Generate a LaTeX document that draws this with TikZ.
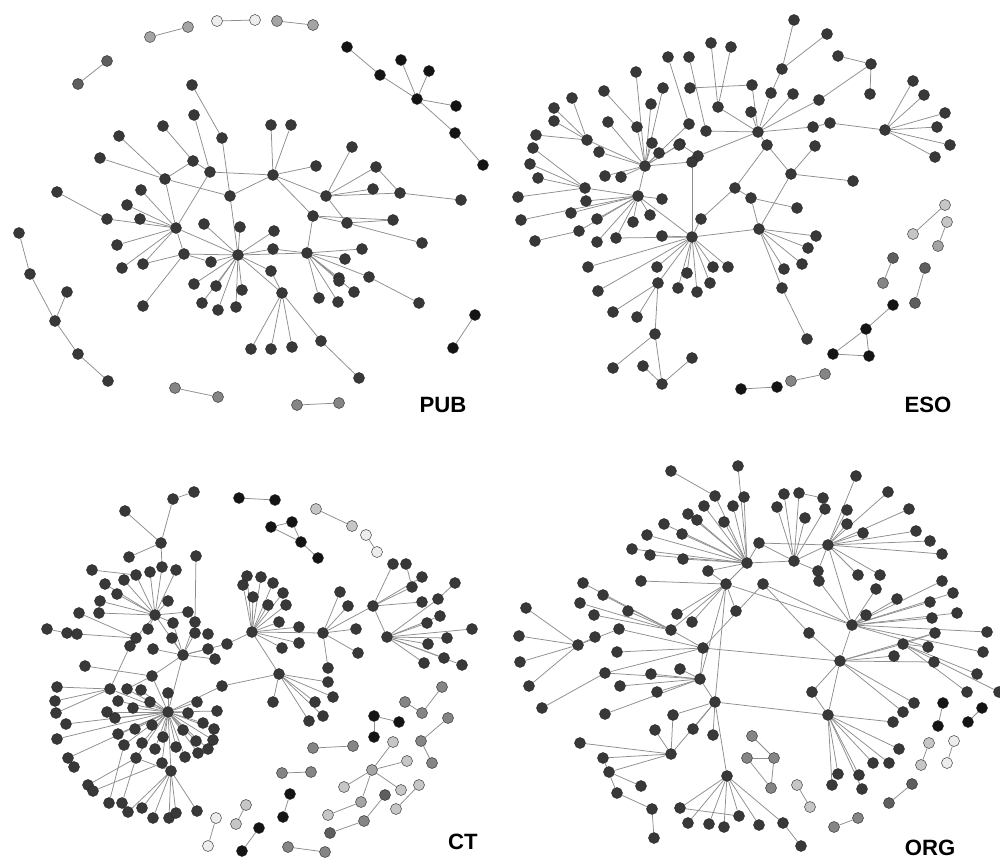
\documentclass[tikz,border=0pt]{standalone}
\usepackage{fontspec}
\setsansfont{Liberation Sans}
\usepackage{tikz}
\usetikzlibrary{calc, positioning}
\pgfdeclarelayer{edges}
\pgfsetlayers{edges,main}
\definecolor{nblack}{HTML}{141414}
\definecolor{ndark}{HTML}{383838}
\definecolor{gone}{HTML}{5E5E5E}
\definecolor{gtwo}{HTML}{858585}
\definecolor{gthree}{HTML}{A4A4A4}
\definecolor{gfour}{HTML}{C6C6C6}
\definecolor{gfive}{HTML}{EDEDED}
\definecolor{linkgray}{HTML}{8E8E8E}

\begin{document}
\begin{tikzpicture}[x=0.254mm, y=-0.254mm,
    dot/.style={circle, inner sep=0pt, minimum size=2.8mm, draw=black!85, fill=ndark, line width=0.3pt},
    link/.style={draw=linkgray, line width=0.55pt},
    lbl/.style={font=\sffamily\bfseries\fontsize{16}{16}\selectfont, inner sep=0pt}]
\useasboundingbox (0,0) rectangle (1000,859);

% PUB
\foreach \i/\x/\y in {1/238/255, 2/307/253, 3/176/228, 4/184/254, 5/165/179, 6/210/172, 7/273/175, 8/230/196,
  9/326/196, 10/313/216, 11/347/223, 12/282/293, 13/192/85, 14/194/115, 15/163/126, 16/119/136, 17/222/138,
  18/271/125, 19/291/125, 20/352/147, 21/100/158, 22/193/161, 23/316/166, 24/376/167, 25/373/189, 26/400/193,
  27/461/200, 28/57/192, 29/141/190, 30/127/205, 31/107/219, 32/140/219, 33/204/224, 34/240/227, 35/274/231,
  36/117/245, 37/273/249, 38/362/249, 39/345/259, 40/122/268, 41/143/264, 42/211/262, 43/271/271, 44/339/278,
  45/369/277, 46/393/220, 47/422/243, 48/143/306, 49/194/284, 50/216/286, 51/202/303, 52/218/310, 53/236/307,
  54/242/290, 55/319/298, 56/338/302, 57/354/292, 58/339/281, 59/419/303, 60/251/349, 61/271/349, 62/292/347,
  63/321/341, 64/359/378, 65/19/233, 66/30/274, 67/55/321, 68/67/292, 69/78/354, 70/108/381}
  \node[dot] (p\i) at (\x,\y) {};
\foreach \i/\x/\y/\c in {71/347/47/nblack, 72/380/75/nblack, 73/417/99/nblack, 74/401/60/nblack, 75/429/71/nblack,
  76/456/106/nblack, 77/455/133/nblack, 78/483/165/nblack, 79/475/315/nblack, 80/453/348/nblack,
  81/150/37/gthree, 82/188/27/gthree, 83/217/21/gfive, 84/255/20/gfive, 85/277/21/gthree, 86/313/25/gthree,
  87/78/84/gone, 88/107/61/gone, 89/175/388/gtwo, 90/218/397/gtwo, 91/297/405/gtwo, 92/339/403/gtwo}
  \node[dot, fill=\c] (p\i) at (\x,\y) {};
\begin{pgfonlayer}{edges}
\foreach \h/\ls in {1/{2,3,4,8,12,33,34,35,37,42,43,49,50,51,52,53,54}, 2/{10,37,38,39,44,45,55,56,57,58},
  3/{4,5,6,29,30,31,32,36,40,41}, 4/{41,42,48}, 5/{8,16,21,22}, 6/{7,14,22}, 7/{8,9,10,18,19,23},
  9/{11,20,24,25,26}, 11/{10,46,47}, 12/{43,60,61,62,63}, 13/{17}, 17/{8}, 15/{22}, 26/{24,27}, 28/{31},
  45/{59}, 63/{64}, 10/{46}, 65/{66}, 66/{67}, 67/{68,69}, 69/{70}, 71/{72}, 72/{73}, 73/{74,75,76,77},
  77/{78}, 79/{80}, 81/{82}, 83/{84}, 85/{86}, 87/{88}, 89/{90}, 91/{92}}
  \foreach \l in \ls {\draw[link] (p\h) -- (p\l);}
\end{pgfonlayer}
\node[lbl] (pub) at (443,405) {PUB};

% ESO
\foreach \i/\x/\y in {1/645/166, 2/638/196, 3/692/237, 4/759/229, 5/758/132, 6/885/130, 7/791/174, 8/735/188,
  9/794/20, 10/827/34, 11/782/69, 12/838/56, 13/871/64, 14/870/94, 15/711/43, 16/731/47, 17/668/57, 18/689/57,
  19/636/72, 20/604/91, 21/572/98, 22/554/108, 23/554/121, 24/536/135, 25/608/122, 26/663/88, 27/690/88,
  28/752/85, 29/771/93, 30/793/94, 31/819/100, 32/651/104, 33/718/107, 34/751/112, 35/637/127, 36/689/124,
  37/706/131, 38/813/127, 39/830/123, 40/913/81, 41/924/95, 42/945/113, 43/937/127, 44/950/145, 45/587/140,
  46/680/144, 47/767/145, 48/815/146, 49/533/148, 50/530/164, 51/538/178, 52/518/197, 53/521/220, 54/535/241,
  55/599/152, 56/652/143, 57/659/153, 58/679/145, 59/698/156, 60/692/162, 61/605/176, 62/621/177, 63/585/188,
  64/586/201, 65/662/199, 66/571/213, 67/597/219, 68/579/231, 69/597/242, 70/633/222, 71/650/215, 72/616/238,
  73/662/236, 74/701/219, 75/588/267, 76/657/267, 77/687/273, 78/713/267, 79/728/267, 80/658/283, 81/710/283,
  82/853/181, 83/751/198, 84/797/208, 85/816/236, 86/808/248, 87/802/264, 88/784/269, 89/782/288, 90/935/157,
  91/598/291, 92/678/288, 93/697/292, 95/613/312, 96/637/317, 97/655/334, 98/613/368, 99/643/366,
  100/662/384, 101/692/358, 102/807/339}
  \node[dot] (e\i) at (\x,\y) {};
\foreach \i/\x/\y/\c in {103/893/305/nblack, 104/866/329/nblack, 105/833/354/nblack, 106/869/356/nblack,
  107/741/389/nblack, 108/777/387/nblack, 109/791/381/gtwo, 110/825/374/gtwo, 111/945/205/gfour,
  112/913/234/gfour, 113/947/222/gfour, 114/938/246/gthree, 115/893/258/gone, 116/883/283/gtwo,
  117/925/268/gone, 118/915/303/gone}
  \node[dot, fill=\c] (e\i) at (\x,\y) {};
\begin{pgfonlayer}{edges}
\foreach \h/\ls in {1/{25,32,35,36,45,46,55,56,57,58,60,61,62,2,19,26}, 2/{53,63,64,65,66,67,68,70,71,72,69,3},
  63/{49,50,51,52}, 45/{21,22,23,24}, 3/{60,72,73,74,75,76,77,78,79,80,81,91,92,93,4},
  4/{7,83,85,86,87,88,89}, 5/{28,29,30,33,34,37,38,47,59,31}, 6/{39,40,41,42,43,44,90}, 7/{47,48,82},
  8/{74,83,47}, 83/{84}, 11/{9,10,29}, 13/{12,14,31}, 15/{33}, 16/{33}, 17/{36}, 18/{37}, 20/{35}, 27/{28},
  38/{39}, 54/{68}, 59/{46}, 80/{95,96,97}, 97/{98,100}, 99/{100}, 100/{101}, 89/{102},
  103/{104}, 104/{105}, 105/{106}, 106/{104}, 107/{108}, 109/{110}, 111/{112}, 113/{114}, 115/{116}, 117/{118}}
  \foreach \l in \ls {\draw[link] (e\h) -- (e\l);}
\end{pgfonlayer}
\node[lbl] (eso) at (928,405) {ESO};

% CT
\foreach \i/\x/\y in {1/168/712, 2/171/771, 3/155/615, 4/183/655, 5/252/632, 6/323/633, 7/279/674, 8/373/606,
  9/387/637, 10/152/676, 11/110/689, 12/161/543, 13/194/492, 14/173/499, 15/125/511, 16/129/557, 17/162/567,
  18/92/570, 19/150/572, 20/176/570, 21/196/556, 22/136/575, 23/105/584, 24/124/580, 25/117/594, 26/100/601,
  27/99/613, 28/79/613, 29/168/601, 30/188/612, 31/195/622, 32/173/623, 33/148/629, 34/47/629, 35/67/633,
  36/77/634, 37/136/638, 38/130/646, 39/172/638, 40/195/633, 41/208/634, 42/153/649, 43/208/649, 44/215/659,
  45/227/644, 46/85/666, 47/222/686, 48/127/689, 49/141/690, 50/57/687, 51/55/701, 52/56/713, 53/118/701,
  54/150/702, 55/168/693, 56/197/702, 57/107/712, 58/115/718, 59/133/708, 60/188/713, 61/217/711, 62/247/576,
  63/261/577, 64/273/583, 65/243/585, 66/283/593, 67/253/597, 68/268/605, 69/286/605, 70/279/622, 71/299/627,
  72/299/643, 73/282/648, 74/356/629, 75/340/592, 76/348/606, 77/358/653, 78/328/668, 79/328/682, 80/333/697,
  81/273/702, 82/315/702, 83/422/577, 84/412/587, 85/455/583, 86/438/599, 87/422/602, 88/440/616, 89/427/623,
  90/472/629, 91/447/638, 92/428/644, 93/444/658, 94/424/663, 95/462/665, 96/393/564, 97/406/564, 98/66/724,
  99/57/739, 100/68/758, 101/74/767, 102/118/734, 103/135/729, 104/152/725, 105/124/745, 106/142/743,
  107/163/737, 108/183/730, 109/203/723, 110/214/729, 111/196/741, 112/213/740, 113/176/747, 114/155/749,
  115/208/749, 116/185/757, 117/198/753, 118/136/758, 119/162/763, 120/88/785, 121/93/791, 122/109/803,
  123/122/803, 124/128/812, 125/142/808, 126/153/818, 127/169/818, 128/176/813, 129/197/811, 130/309/721,
  131/323/716}
  \node[dot] (c\i) at (\x,\y) {};
\foreach \i/\x/\y/\c in {132/239/498/nblack, 133/275/500/nblack, 134/271/527/nblack, 135/292/522/nblack,
  136/301/542/nblack, 137/318/558/nblack, 138/374/716/nblack, 139/399/722/nblack, 140/374/737/nblack,
  141/290/794/nblack, 142/283/817/nblack, 143/259/828/nblack, 144/242/851/nblack, 145/316/509/gfour,
  146/352/526/gfour, 147/366/535/gfive, 148/377/552/gfive, 149/405/702/gtwo, 150/422/713/gtwo, 151/442/687/gtwo,
  152/448/718/gtwo, 153/421/741/gtwo, 154/432/763/gtwo, 155/313/748/gtwo, 156/353/746/gtwo, 157/282/773/gtwo,
  158/311/772/gtwo, 159/288/847/gtwo, 160/325/852/gtwo, 161/372/770/gthree, 162/393/742/gfour,
  163/407/761/gfour, 164/344/787/gfour, 165/401/790/gfour, 166/361/802/gthree, 167/328/815/gfour,
  168/385/795/gone, 169/364/821/gtwo, 170/330/833/gone, 171/419/785/gfour, 172/396/809/gfour,
  173/246/805/gfour, 174/236/824/gfour, 175/216/818/gfive, 176/208/846/gfive}
  \node[dot, fill=\c] (c\i) at (\x,\y) {};
\begin{pgfonlayer}{edges}
\foreach \h/\ls in {1/{2,4,10,11,47,48,49,53,54,55,56,57,58,59,60,61,98,99,100,102,103,104,105,106,107,108,109,110,111,112,113,114,115,116,117,118,119},
  2/{118,119,124,125,126,127,128,129}, 3/{4,17,19,20,22,23,24,25,26,27,29,30,32,33,37},
  4/{31,32,39,40,42,43,44,45,10}, 5/{45,62,63,64,65,66,67,68,69,70,71,72,73,6,7}, 6/{74,75,76,77,78,8},
  7/{47,79,80,81,82,130,131}, 8/{83,84,87,96,9}, 9/{86,88,89,90,91,92,93,94,95}, 10/{46,48}, 11/{50,51,52,38},
  12/{14,15,16,17}, 14/{13}, 21/{31}, 18/{22}, 28/{37}, 34/{35}, 35/{36}, 36/{37}, 37/{38}, 85/{86}, 84/{97},
  100/{101}, 118/{120,123}, 119/{121}, 105/{122},
  132/{133}, 134/{135,136}, 135/{136}, 136/{137}, 138/{139,140}, 141/{142}, 143/{144}, 145/{146}, 147/{148},
  149/{150}, 150/{151}, 152/{153}, 153/{154}, 155/{156}, 157/{158}, 159/{160}, 161/{162,163,164,165,166},
  166/{167}, 168/{169}, 169/{170}, 171/{172}, 173/{174}, 175/{176}}
  \foreach \l in \ls {\draw[link] (c\h) -- (c\l);}
\end{pgfonlayer}
\node[lbl] (ct) at (463,842) {CT};

% ORG
\foreach \i/\x/\y in {1/747/563, 2/794/561, 3/828/545, 4/726/584, 5/852/625, 6/840/661, 7/578/645, 8/703/648,
  9/671/630, 10/700/679, 11/715/702, 12/828/715, 13/727/776, 14/671/754, 15/671/471, 16/738/466, 17/715/496,
  18/744/497, 19/704/506, 20/733/506, 21/688/514, 22/697/520, 23/724/522, 24/664/524, 25/647/535, 26/682/534,
  27/632/549, 28/650/555, 29/683/559, 30/708/571, 31/759/543, 32/784/494, 33/799/493, 34/823/498, 35/825/509,
  36/777/507, 37/805/518, 38/856/476, 39/847/510, 40/847/524, 41/888/492, 42/909/509, 43/863/533, 44/818/571,
  45/916/531, 46/930/541, 47/942/554, 48/858/575, 49/880/575, 50/641/581, 51/583/583, 52/603/595, 53/580/603,
  54/594/615, 55/628/611, 56/677/614, 57/692/622, 58/736/611, 59/763/584, 60/819/581, 61/876/589, 62/897/599,
  63/930/602, 64/942/581, 65/953/593, 66/866/615, 67/932/618, 68/957/613, 69/935/633, 70/987/632, 71/903/644,
  72/928/647, 73/983/652, 74/894/656, 75/934/662, 76/977/674, 77/967/692, 78/999/692, 79/914/703, 80/903/712,
  81/526/608, 82/519/636, 83/520/662, 84/529/686, 85/595/637, 86/619/629, 87/617/652, 88/605/673, 89/651/674,
  90/680/669, 91/620/686, 92/657/692, 93/542/708, 94/605/714, 95/809/633, 96/812/692, 97/673/715, 98/693/729,
  99/713/735, 100/655/730, 101/580/743, 102/603/758, 103/609/772, 104/641/786, 105/617/793, 106/652/809,
  107/654/838, 108/680/808, 109/688/823, 110/709/824, 111/724/827, 112/739/816, 113/759/825, 114/783/823,
  115/801/846, 116/893/722, 117/899/749, 118/889/763, 119/873/763, 120/838/774, 121/859/775, 122/832/785,
  123/862/789}
  \node[dot] (o\i) at (\x,\y) {};
\foreach \i/\x/\y/\c in {124/943/703/nblack, 125/938/726/nblack, 126/982/708/nblack,
  127/968/722/nblack, 128/752/736/gtwo, 129/747/758/gtwo, 130/774/758/gtwo, 131/771/788/gtwo,
  132/797/785/gfour, 133/810/807/gfour, 134/834/827/gtwo, 135/858/818/gtwo, 136/929/743/gfour,
  137/921/765/gfour, 138/954/741/gfive, 139/947/763/gfive, 140/912/784/gone, 141/889/803/gone}
  \node[dot, fill=\c] (o\i) at (\x,\y) {};
\begin{pgfonlayer}{edges}
\foreach \h/\ls in {1/{2,4,16,17,18,19,20,21,22,23,24,25,26,27,28,29,30,31}, 2/{3,31,32,33,35,36,37,44},
  3/{31,38,39,40,41,42,43,44,45,46,47,48,49,5}, 4/{5,9,10,11,30,50,56,57,58},
  5/{6,59,60,61,62,63,64,65,66,67,68,70,72,73}, 6/{8,12,69,71,74,75,79,80,95,96}, 71/{69,72,76,77,78},
  7/{81,82,83,84,85,86}, 9/{8,51,52,53,54,55}, 8/{10,59,86,87,88}, 10/{11,88,89,90,91,92,94},
  11/{12,13,14,97,98,99}, 14/{97,100,101,102,103}, 13/{108,109,110,111,112,113,114},
  12/{96,116,117,118,119,120,121,122,123}, 15/{17}, 34/{33}, 103/{104}, 105/{102,106}, 106/{107},
  108/{112}, 114/{115}, 93/{88}, 59/{95},
  124/{125}, 126/{127}, 128/{130}, 129/{130,131}, 130/{131}, 132/{133}, 134/{135}, 136/{137}, 138/{139},
  140/{141}}
  \foreach \l in \ls {\draw[link] (o\h) -- (o\l);}
\end{pgfonlayer}
\node[lbl] (org) at (930,848) {ORG};
\end{tikzpicture}
\end{document}
